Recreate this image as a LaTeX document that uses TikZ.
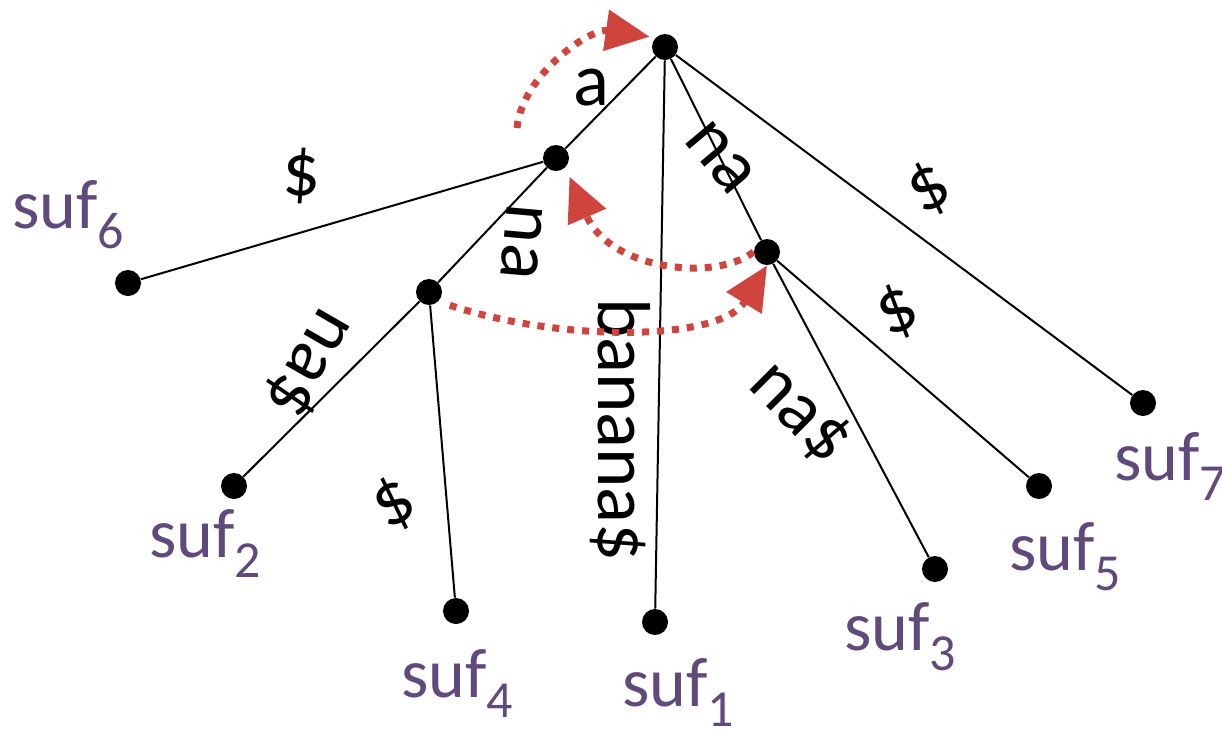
\documentclass[tikz,border=0pt]{standalone}
\usepackage{fontspec}
\setmainfont{Carlito}
\usepackage{tikz}
\usetikzlibrary{positioning}
\usetikzlibrary{arrows.meta}

\definecolor{sufpurple}{HTML}{604A7B}
\definecolor{jumpred}{RGB}{208,68,62}

\newcommand{\suf}[1]{suf\raisebox{-10pt}{\fontsize{26pt}{26pt}\selectfont #1}}

\begin{document}
\begin{tikzpicture}[x=0.5pt, y=-0.5pt,
    dot/.style={circle, fill=black, inner sep=0pt, minimum size=13pt},
    edge/.style={line width=1pt},
    lab/.style={inner sep=0pt, font=\fontsize{37.5pt}{40pt}\selectfont},
    suf/.style={anchor=base west, inner sep=0pt, text=sufpurple, font=\fontsize{35pt}{38pt}\selectfont},
    jump/.style={jumpred, line width=3.5pt, dash pattern=on 3.5pt off 4pt, -{Triangle[length=22pt, width=20pt]}}]

    \useasboundingbox (0,0) rectangle (1222,730);

    \node [dot] (r) at (665,47) {};
    \node [dot] (a) at (556,158) {};
    \node [dot] (n) at (767,252) {};
    \node [dot] (an) at (429,292) {};

    \node [dot] (s6) at (128,283) {};
    \node [dot] (s2) at (234,486) {};
    \node [dot] (s4) at (456,611) {};
    \node [dot] (s1) at (655,622) {};
    \node [dot] (s3) at (935,569) {};
    \node [dot] (s5) at (1039,486) {};
    \node [dot] (s7) at (1143,403) {};

    \draw [edge] (r) -- (a);
    \draw [edge] (r) -- (n);
    \draw [edge] (r) -- (s1);
    \draw [edge] (r) -- (s7);
    \draw [edge] (a) -- (s6);
    \draw [edge] (a) -- (an);
    \draw [edge] (an) -- (s2);
    \draw [edge] (an) -- (s4);
    \draw [edge] (n) -- (s3);
    \draw [edge] (n) -- (s5);

    \node [lab] (ta) at (591,88) {a};
    \node [lab] (ts6) at (302,176) {\$};
    \node [lab, rotate=-50] (tn) at (720,158) {na};
    \node [lab, rotate=30] (ts7) at (929,189) {\$};
    \node [lab, rotate=-95] (tan) at (522,242) {na};
    \node [lab, rotate=-90] (t1) at (620,430) {banana\$};
    \node [lab, rotate=25] (ts5) at (897,312) {\$};
    \node [lab, rotate=-120] (ts2) at (310,363) {na\$};
    \node [lab, rotate=30] (ts4) at (394,504) {\$};
    \node [lab, rotate=-45] (ts3) at (800,413) {na\$};

    \node [suf] (l6) at (12,228) {\suf{6}};
    \node [suf] (l2) at (149,557) {\suf{2}};
    \node [suf] (l4) at (401,697) {\suf{4}};
    \node [suf] (l1) at (622,706) {\suf{1}};
    \node [suf] (l3) at (844,650) {\suf{3}};
    \node [suf] (l5) at (1009,570) {\suf{5}};
    \node [suf] (l7) at (1114,480) {\suf{7}};

    \coordinate (up) at (517,128);

    \draw [jump, shorten >=3pt] (up) .. controls (522,75) and (590,28) .. (r.north west);
    \draw [jump, shorten >=5pt] (n.west) .. controls (715,282) and (610,270) .. (a.south east);
    \draw [jump, shorten <=6pt] (an.south east) .. controls (560,342) and (720,342) .. (n.south);

\end{tikzpicture}
\end{document}
